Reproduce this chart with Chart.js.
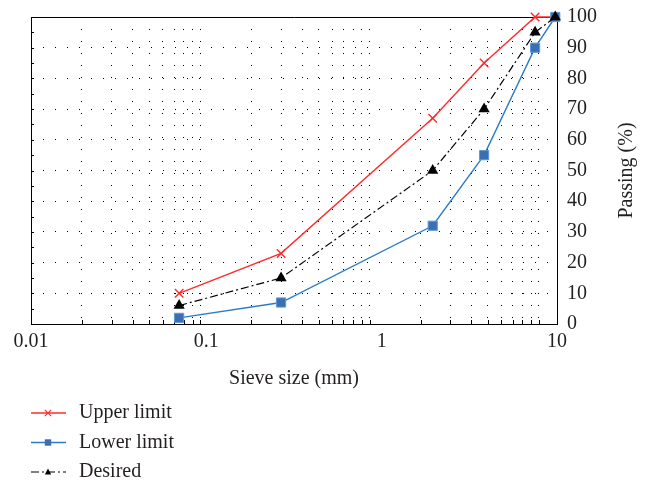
<!DOCTYPE html>
<html>
<head>
<meta charset="utf-8">
<script src="https://cdn.jsdelivr.net/npm/chart.js@4.4.1/dist/chart.umd.min.js"></script>
<style>
html, body { margin: 0; padding: 0; background: #fff; }
</style>
</head>
<body>
<canvas id="gradation" width="652" height="483"></canvas>
<script>
// sieve sizes (mm) and % passing
const sieveSizes = [0.075, 0.3, 2.36, 4.75, 9.5, 12.5];
const upperLimit = [10, 23, 67, 85, 100, 100];
const lowerLimit = [2, 7, 32, 55, 90, 100];
const desired = [6, 15, 50, 70, 95, 100];
const xTickLabels = ['0.01', '0.1', '1', '10'];
const xMin = 0.01, xMax = 12.8;

const serif = "'Liberation Serif', 'DejaVu Serif', serif";
const ink = '#231f20';

function points(ys) {
	return sieveSizes.map((x, i) => ({x: x, y: ys[i]}));
}

// dotted grid at 2..10 of each decade
const gridValues = [];
for (let d = 0.01; d < 10; d *= 10) {
	for (let k = 2; k <= 10; k++) gridValues.push(+(k * d).toPrecision(3));
}
// the labels are spread evenly along the axis, like in the source figure
const labelValues = xTickLabels.map((t, i) => xMin * Math.pow(xMax / xMin, i / (xTickLabels.length - 1)));

const frame = {
	id: 'frame',
	beforeDatasetsDraw(chart) {
		const ctx = chart.ctx, a = chart.chartArea, x = chart.scales.x, y = chart.scales.y;
		ctx.save();
		ctx.strokeStyle = '#000';
		ctx.lineWidth = 1;
		ctx.beginPath();
		ctx.moveTo(a.left + 0.5, a.bottom);
		ctx.lineTo(a.left + 0.5, a.top + 0.5);
		ctx.lineTo(a.right, a.top + 0.5);
		for (let v = 5; v < 100; v += 5) {
			const py = Math.round(y.getPixelForValue(v)) + 0.5;
			ctx.moveTo(a.left, py);
			ctx.lineTo(a.left + 3, py);
		}
		gridValues.forEach(v => {
			const px = Math.round(x.getPixelForValue(v)) + 0.5;
			ctx.moveTo(px, a.bottom);
			ctx.lineTo(px, a.bottom - 4);
		});
		ctx.stroke();
		// y title reads bottom to top
		ctx.fillStyle = ink;
		ctx.font = '20px ' + serif;
		ctx.textAlign = 'center';
		ctx.textBaseline = 'middle';
		ctx.translate(a.right + 70, (a.top + a.bottom) / 2);
		ctx.rotate(-Math.PI / 2);
		ctx.fillText('Passing (%)', 0, 0);
		ctx.restore();
	}
};

function marker(ctx, style, x, y, r) {
	ctx.beginPath();
	if (style === 'crossRot') {
		ctx.moveTo(x - r, y - r); ctx.lineTo(x + r, y + r);
		ctx.moveTo(x - r, y + r); ctx.lineTo(x + r, y - r);
		ctx.stroke();
	} else if (style === 'rect') {
		ctx.rect(x - r, y - r, 2 * r, 2 * r);
		ctx.fill();
	} else {
		ctx.moveTo(x, y - r * 1.1);
		ctx.lineTo(x + r, y + r * 0.75);
		ctx.lineTo(x - r, y + r * 0.75);
		ctx.closePath();
		ctx.fill();
	}
}

const legendBox = {
	id: 'legendBox',
	afterDraw(chart) {
		const ctx = chart.ctx;
		chart.data.datasets.forEach((ds, i) => {
			const cy = chart.height - 70 + i * 29.5;
			ctx.save();
			ctx.strokeStyle = ds.borderColor;
			ctx.lineWidth = ds.borderWidth;
			ctx.setLineDash(ds.borderDash || []);
			ctx.beginPath();
			ctx.moveTo(31, cy);
			ctx.lineTo(66, cy);
			ctx.stroke();
			ctx.setLineDash([]);
			ctx.fillStyle = ds.backgroundColor;
			ctx.lineWidth = 1.2;
			marker(ctx, ds.pointStyle, 48, cy, 3.2);
			ctx.fillStyle = ink;
			ctx.font = '20px ' + serif;
			ctx.textAlign = 'left';
			ctx.textBaseline = 'middle';
			ctx.fillText(ds.label, 79, cy);
			ctx.restore();
		});
	}
};

const chart = new Chart(document.getElementById('gradation'), {
	type: 'line',
	data: {
		datasets: [{
			label: 'Upper limit',
			data: points(upperLimit),
			borderColor: '#ff2b2b',
			backgroundColor: '#ff2b2b',
			borderWidth: 1.4,
			pointStyle: 'crossRot',
			pointRadius: 6,
			pointBorderWidth: 1.4,
			clip: false,
			order: 2
		}, {
			label: 'Lower limit',
			data: points(lowerLimit),
			borderColor: '#2b7cc6',
			backgroundColor: '#3c6fb1',
			pointBorderColor: '#5b9ad6',
			borderWidth: 1.4,
			pointStyle: 'rect',
			pointRadius: 6.5,
			pointBorderWidth: 1,
			clip: false,
			order: 1
		}, {
			label: 'Desired',
			data: points(desired),
			borderColor: '#000',
			backgroundColor: '#000',
			borderWidth: 1.2,
			borderDash: [8, 3, 2, 3],
			pointStyle: 'triangle',
			pointRadius: 6.5,
			pointBorderWidth: 0,
			clip: false,
			order: 0
		}]
	},
	options: {
		responsive: false,
		animation: false,
		layout: { padding: { left: 31, top: 17, right: 53, bottom: 92 } },
		elements: { line: { tension: 0 } },
		plugins: { legend: { display: false }, tooltip: { enabled: false } },
		scales: {
			x: {
				type: 'logarithmic',
				min: xMin,
				max: xMax,
				afterBuildTicks: (scale) => {
					scale.ticks = gridValues.map(v => ({value: v})).concat(labelValues.map(v => ({value: v})));
				},
				ticks: {
					autoSkip: false,
					maxRotation: 0,
					padding: 6,
					color: ink,
					font: { family: serif, size: 20 },
					callback: (v, i) => i >= gridValues.length ? xTickLabels[i - gridValues.length] : ''
				},
				grid: {
					color: (c) => c.index < gridValues.length ? '#000' : 'rgba(0,0,0,0)',
					drawTicks: false
				},
				border: { color: '#000', width: 1, dash: [1, 11] },
				title: {
					display: true,
					text: 'Sieve size (mm)',
					color: ink,
					font: { family: serif, size: 20 },
					padding: { top: 7, bottom: 0 }
				}
			},
			y: {
				position: 'right',
				min: 0,
				max: 100,
				ticks: { stepSize: 10, padding: 2, color: ink, font: { family: serif, size: 20 } },
				grid: { color: '#000', drawTicks: true, tickLength: 8, tickColor: 'rgba(0,0,0,0)' },
				border: { color: '#000', width: 1, dash: [1, 11] }
			}
		}
	},
	plugins: [frame, legendBox]
});
</script>
</body>
</html>
